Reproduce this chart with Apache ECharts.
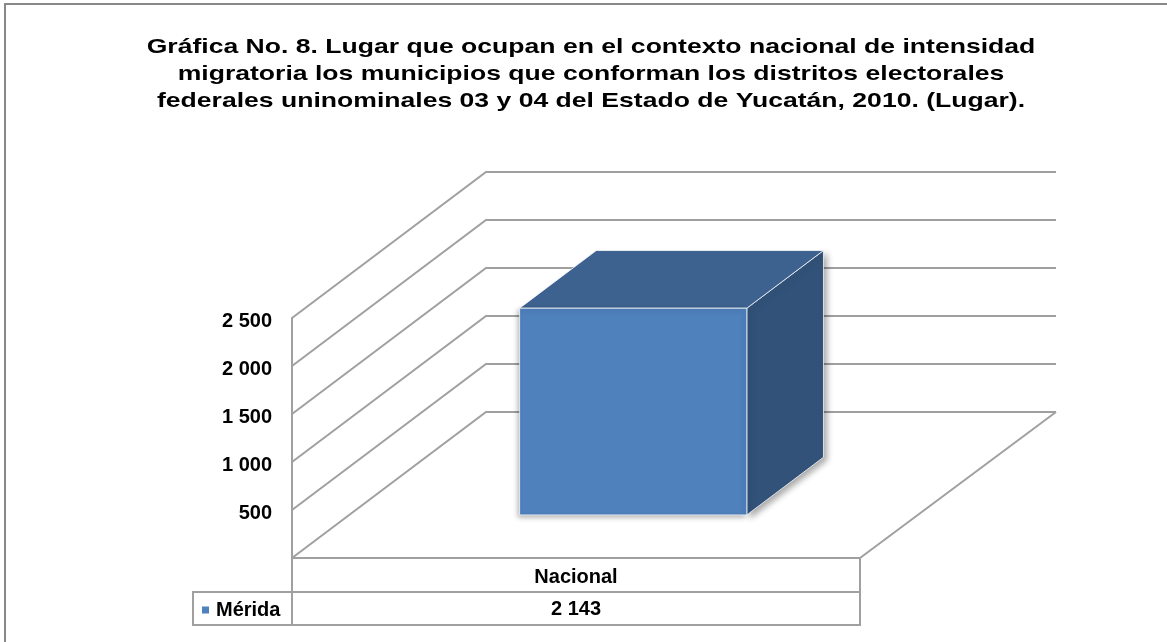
<!DOCTYPE html>
<html>
<head>
<meta charset="utf-8">
<script src="https://cdn.jsdelivr.net/npm/echarts@6/dist/echarts.min.js"></script>
<style>
  html, body { margin: 0; padding: 0; background: #fff; }
  #main { width: 1167px; height: 642px; }
</style>
</head>
<body>
<div id="main"></div>
<script>
// datos de la gráfica
var categories = ['Nacional'];
var seriesName = 'Mérida';
var values = [2143];
var yTicks = [0, 500, 1000, 1500, 2000, 2500];
var titleText = 'Gráfica No. 8. Lugar que ocupan en el contexto nacional de intensidad\n' +
  'migratoria los municipios que conforman los distritos electorales\n' +
  'federales uninominales 03 y 04 del Estado de Yucatán, 2010. (Lugar).';

// perspectiva (profundidad de la caja 3D)
var DX = 194, DY = -146;
var F1 = 0.295, F2 = 0.69; // profundidad frontal / trasera de la barra
var lineGray = '#a0a0a0';
var font = 'Liberation Sans, Arial, sans-serif';

function fmt(v) {
  return String(v).replace(/\B(?=(\d{3})+(?!\d))/g, ' ');
}

var chart = echarts.init(document.getElementById('main'));

var option = {
  backgroundColor: '#fff',
  animation: false,
  legend: {
    data: [seriesName],
    left: 197,
    top: 595,
    icon: 'rect',
    itemWidth: 7,
    itemHeight: 7,
    itemGap: 4,
    textStyle: { fontFamily: font, fontSize: 20, fontWeight: 'bold', color: '#000', padding: [0, 0, 0, 2] }
  },
  graphic: [
    {
      type: 'rect',
      silent: true,
      z: -10,
      shape: { x: 5, y: 4, width: 1300, height: 800 },
      style: { fill: 'none', stroke: '#888', lineWidth: 2 }
    },
    {
      // titulo (el original está estirado horizontalmente)
      type: 'text',
      silent: true,
      x: 591,
      y: 34,
      scaleX: 1.265,
      style: {
        text: titleText,
        font: 'bold 21px ' + font,
        fill: '#000',
        textAlign: 'center',
        textVerticalAlign: 'top',
        lineHeight: 27
      }
    }
  ],
  grid: { left: 292, right: 307, top: 318, bottom: 84 },
  xAxis: {
    type: 'category',
    data: categories,
    axisLine: { show: true, lineStyle: { color: lineGray, width: 2 } },
    axisTick: { show: false },
    axisLabel: { margin: 9, fontFamily: font, fontSize: 20, fontWeight: 'bold', color: '#000' },
    splitLine: { show: false }
  },
  yAxis: {
    type: 'value',
    min: 0,
    max: 2500,
    interval: 500,
    axisLine: { show: true, lineStyle: { color: lineGray, width: 2 } },
    axisTick: { show: false },
    splitLine: { show: false },
    axisLabel: {
      margin: 20,
      verticalAlign: 'top',
      lineHeight: 6,
      fontFamily: font, fontSize: 20, fontWeight: 'bold', color: '#000',
      formatter: function (v) { return v === 0 ? '' : fmt(v); }
    }
  },
  series: [
    {
      // paredes y piso
      type: 'custom',
      name: 'walls',
      silent: true,
      z: 1,
      data: yTicks.map(function (v) { return [0, v]; }),
      encode: { x: 0, y: 1 },
      renderItem: function (params, api) {
        var cs = params.coordSys;
        var y = api.coord([0, api.value(1)])[1];
        var x0 = cs.x;
        var st = { stroke: lineGray, lineWidth: 2, fill: 'none' };
        var kids = [{
          type: 'polyline',
          shape: { points: [[x0, y], [x0 + DX, y + DY], [x0 + cs.width + DX + 2, y + DY]] },
          style: st
        }];
        if (api.value(1) === 0) {
          kids.push({
            type: 'line',
            shape: { x1: x0 + cs.width, y1: y, x2: x0 + cs.width + DX + 2, y2: y + DY },
            style: st
          });
        }
        return { type: 'group', children: kids };
      }
    },
    {
      // barra 3D + tabla de datos
      type: 'custom',
      name: seriesName,
      z: 5,
      itemStyle: { color: '#4f81bd' },
      data: values.map(function (v, i) { return [i, v]; }),
      encode: { x: 0, y: 1 },
      renderItem: function (params, api) {
        var cs = params.coordSys;
        var base = api.coord([api.value(0), 0]);
        var top = api.coord([api.value(0), api.value(1)]);
        var band = api.size([1, 0])[0];
        var w = band * 0.40;
        var xl = base[0] - w / 2 + F1 * DX, xr = xl + w;
        var yb = base[1] + F1 * DY, yt = top[1] + F1 * DY - 1;
        var ddx = (F2 - F1) * DX, ddy = (F2 - F1) * DY;
        var edge = 'rgba(255,255,255,0.75)';
        var tableTop = cs.y + cs.height;
        var rowH = 34;
        return {
          type: 'group',
          children: [
            {
              type: 'polygon',
              shape: { points: [[xr, yt], [xr + ddx, yt + ddy], [xr + ddx, yb + ddy], [xr, yb]] },
              style: { fill: '#325279', stroke: edge, lineWidth: 1, shadowColor: 'rgba(0,0,0,0.35)', shadowBlur: 6, shadowOffsetX: 3, shadowOffsetY: 3 }
            },
            {
              type: 'polygon',
              shape: { points: [[xl, yt], [xr, yt], [xr + ddx, yt + ddy], [xl + ddx, yt + ddy]] },
              style: { fill: '#3d6290', stroke: edge, lineWidth: 1 }
            },
            {
              type: 'rect',
              shape: { x: xl, y: yt, width: w, height: yb - yt },
              style: { fill: '#4f81bd', stroke: edge, lineWidth: 1, shadowColor: 'rgba(0,0,0,0.3)', shadowBlur: 5, shadowOffsetX: -2, shadowOffsetY: 2 }
            },
            // tabla
            {
              type: 'rect',
              shape: { x: cs.x, y: tableTop, width: cs.width, height: rowH },
              style: { fill: 'none', stroke: lineGray, lineWidth: 2 }
            },
            {
              type: 'rect',
              shape: { x: cs.x, y: tableTop + rowH, width: cs.width, height: rowH - 1 },
              style: { fill: 'none', stroke: lineGray, lineWidth: 2 }
            },
            {
              type: 'rect',
              shape: { x: cs.x - 99, y: tableTop + rowH, width: 99, height: rowH - 1 },
              style: { fill: 'none', stroke: lineGray, lineWidth: 2 }
            },
            {
              type: 'text',
              style: {
                x: base[0], y: tableTop + rowH + 17,
                text: fmt(api.value(1)),
                textAlign: 'center', textVerticalAlign: 'middle',
                font: 'bold 20px ' + font, fill: '#000'
              }
            }
          ]
        };
      }
    }
  ]
};

chart.setOption(option);
</script>
</body>
</html>
